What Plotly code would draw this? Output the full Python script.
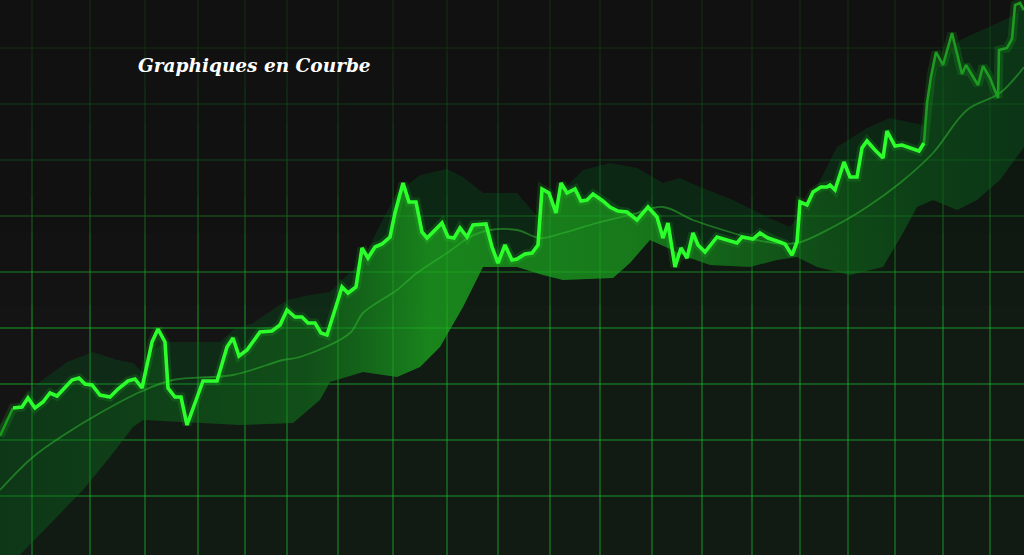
import plotly.graph_objects as go

# Price curve (x position, value)
price_x = [0, 13, 22, 28, 35, 43, 50, 57, 72, 79, 85, 92, 100, 110, 118, 128, 135, 142, 152, 158,
           165, 168, 175, 181, 187, 203, 217, 227, 233, 239, 247, 260, 272, 280, 287, 295, 302, 308, 315, 321,
           327, 338, 342, 348, 356, 362, 368, 375, 382, 390, 395, 403, 409, 416, 422, 427, 433, 442, 448, 454,
           460, 467, 473, 486, 492, 498, 505, 512, 517, 525, 532, 538, 542, 549, 556, 561, 567, 575, 581, 587,
           593, 603, 610, 618, 627, 637, 648, 657, 663, 668, 675, 681, 687, 693, 698, 705, 717, 727, 737, 742,
           753, 760, 768, 777, 785, 792, 797, 800, 807, 813, 821, 827, 830, 835, 844, 850, 857, 862, 867, 875,
           883, 887, 895, 902, 913, 919, 924, 927, 931, 936, 943, 952, 962, 966, 978, 983, 990, 998, 999, 1007,
           1012, 1015, 1020, 1024]
price_y = [119, 147, 148, 157, 147, 153, 162, 159, 175, 177, 171, 170, 160, 158, 166, 174, 176, 167, 213, 226,
           213, 167, 158, 158, 130, 174, 174, 208, 217, 199, 205, 223, 224, 230, 245, 238, 238, 232, 232, 222,
           220, 255, 268, 262, 268, 307, 297, 308, 311, 318, 342, 372, 353, 353, 323, 317, 323, 332, 318, 317,
           327, 318, 330, 331, 308, 292, 310, 295, 296, 301, 302, 310, 366, 362, 342, 372, 362, 366, 354, 355,
           361, 354, 348, 344, 343, 335, 348, 338, 317, 332, 288, 307, 297, 322, 310, 303, 318, 315, 312, 318,
           316, 322, 317, 314, 311, 300, 313, 353, 350, 363, 368, 368, 370, 365, 393, 378, 378, 407, 414, 405,
           397, 424, 409, 410, 406, 404, 412, 452, 478, 503, 490, 522, 481, 490, 470, 489, 477, 457, 505, 507,
           516, 550, 552, 545]

# Upper band
upper_x = [0, 33, 67, 93, 117, 133, 143, 153, 167, 220, 233, 253, 287, 310, 330, 363, 380, 397, 420, 447,
           463, 483, 517, 530, 543, 563, 583, 610, 637, 663, 680, 700, 733, 767, 790, 810, 837, 867, 890, 923,
           935, 960, 1000, 1024]
upper_y = [130, 168, 193, 203, 195, 192, 182, 205, 213, 213, 225, 232, 255, 260, 263, 295, 330, 362, 380, 386,
           378, 362, 362, 347, 332, 365, 385, 392, 387, 372, 377, 368, 355, 338, 328, 355, 408, 427, 437, 430,
           485, 515, 533, 545]

# Moving average
mid_x = [0, 33, 67, 100, 140, 173, 233, 283, 300, 350, 363, 397, 417, 447, 470, 490, 517, 540, 563, 597,
         630, 663, 693, 733, 767, 797, 833, 867, 900, 933, 967, 1000, 1024]
mid_y = [65, 98, 122, 142, 163, 175, 180, 195, 198, 222, 242, 265, 282, 302, 318, 325, 325, 317, 322, 332,
         340, 348, 335, 322, 313, 312, 328, 348, 372, 402, 445, 462, 488]

# Lower band
lower_x = [0, 20, 83, 110, 133, 143, 240, 293, 320, 330, 363, 397, 420, 440, 463, 483, 517, 543, 563, 613,
           630, 650, 690, 710, 750, 777, 797, 817, 850, 883, 903, 917, 933, 957, 977, 1000, 1024]
lower_y = [-20, 0, 65, 98, 128, 135, 130, 132, 155, 173, 183, 178, 188, 208, 248, 288, 288, 280, 275, 277,
           292, 315, 297, 290, 288, 295, 298, 288, 280, 288, 322, 348, 355, 345, 355, 375, 408]

# Grid positions
grid_x = [32, 90, 145, 198, 245, 287, 338, 393, 447, 498, 550, 600, 652, 702, 752, 800, 848, 895, 943, 990]
grid_y = [59, 115, 171, 227, 283, 339, 395, 451, 507]

x_range = [0, 1024]
y_range = [0, 555]

title_text = "Graphiques en Courbe"

fig = go.Figure()

# darkening veil over the grid towards the top: stacked translucent layers under everything else
for k in range(8):
    y0 = y_range[0] + (0.45 + k * 0.065) * (y_range[1] - y_range[0])
    fig.add_trace(go.Scatter(
        x=[x_range[0], x_range[1], x_range[1], x_range[0], x_range[0]],
        y=[y0, y0, y_range[1], y_range[1], y0],
        mode="lines", line=dict(width=0), fill="toself", fillcolor="rgba(20,20,20,0.17)",
        hoverinfo="skip", showlegend=False))

# faint shadow under the lower band
fig.add_trace(go.Scatter(
    x=lower_x, y=lower_y, mode="lines", line=dict(width=0), fill="tozeroy",
    fillcolor="rgba(0,100,30,0.08)", hoverinfo="skip", showlegend=False))

# dark band between lower and upper
fig.add_trace(go.Scatter(
    x=upper_x, y=upper_y, mode="lines", line=dict(width=0), fill="tonexty",
    fillcolor="rgba(0,110,35,0.25)", hoverinfo="skip", showlegend=False))

# brighter fill between price and lower band
fig.add_trace(go.Scatter(
    x=lower_x, y=lower_y, mode="lines", line=dict(width=0), hoverinfo="skip", showlegend=False))
fig.add_trace(go.Scatter(
    x=price_x, y=price_y, mode="lines", line=dict(width=0), fill="tonexty",
    fillgradient=dict(type="horizontal", colorscale=[
        [0, "rgba(10,90,20,0.25)"], [0.3, "rgba(20,130,25,0.42)"], [0.42, "rgba(30,175,30,0.68)"],
        [0.62, "rgba(30,170,30,0.62)"], [0.8, "rgba(20,120,25,0.45)"], [1, "rgba(10,80,25,0.32)"]]),
    hoverinfo="skip", showlegend=False))

# moving average
fig.add_trace(go.Scatter(
    x=mid_x, y=mid_y, mode="lines", line=dict(width=1.8, color="rgba(50,190,50,0.5)", shape="spline"),
    hoverinfo="skip", showlegend=False))

# price line: glow + bright core, dimmer ends
fig.add_trace(go.Scatter(
    x=price_x, y=price_y, mode="lines", line=dict(width=9, color="rgba(40,255,40,0.12)"),
    hoverinfo="skip", showlegend=False))

left = [i for i, v in enumerate(price_x) if v <= 13]
mid = [i for i, v in enumerate(price_x) if 13 <= v <= 924]
right = [i for i, v in enumerate(price_x) if v >= 924]
for idx, col, w in [(left, "#1c9a1c", 2.5), (mid, "#2cff2c", 3.6), (right, "#1f9a22", 2.6)]:
    fig.add_trace(go.Scatter(
        x=[price_x[i] for i in idx], y=[price_y[i] for i in idx], mode="lines",
        line=dict(width=w, color=col), hoverinfo="skip", showlegend=False))

fig.add_annotation(
    text=title_text, xref="paper", yref="paper", x=136 / 1024, y=1 - 65 / 555,
    xanchor="left", yanchor="middle", showarrow=False,
    font=dict(family="DejaVu Serif", size=18.5, color="white", weight="bold", style="italic"))

grid_col = "rgba(25,190,40,0.40)"
fig.update_xaxes(range=x_range, tickvals=grid_x, showticklabels=False, showgrid=True,
                 gridcolor=grid_col, gridwidth=1.5, zeroline=False, showline=False, fixedrange=True)
fig.update_yaxes(range=y_range, tickvals=grid_y, showticklabels=False, showgrid=True,
                 gridcolor=grid_col, gridwidth=1.5, zeroline=False, showline=False, fixedrange=True)
fig.update_layout(
    width=1024, height=555, margin=dict(l=0, r=0, t=0, b=0),
    paper_bgcolor="#141414", plot_bgcolor="#141414", showlegend=False)

# remove the page margin so the chart fills the window
fig.write_html("out.html", config={"displayModeBar": False},
               post_script="document.body.style.margin='0';document.body.style.background='#141414';")
